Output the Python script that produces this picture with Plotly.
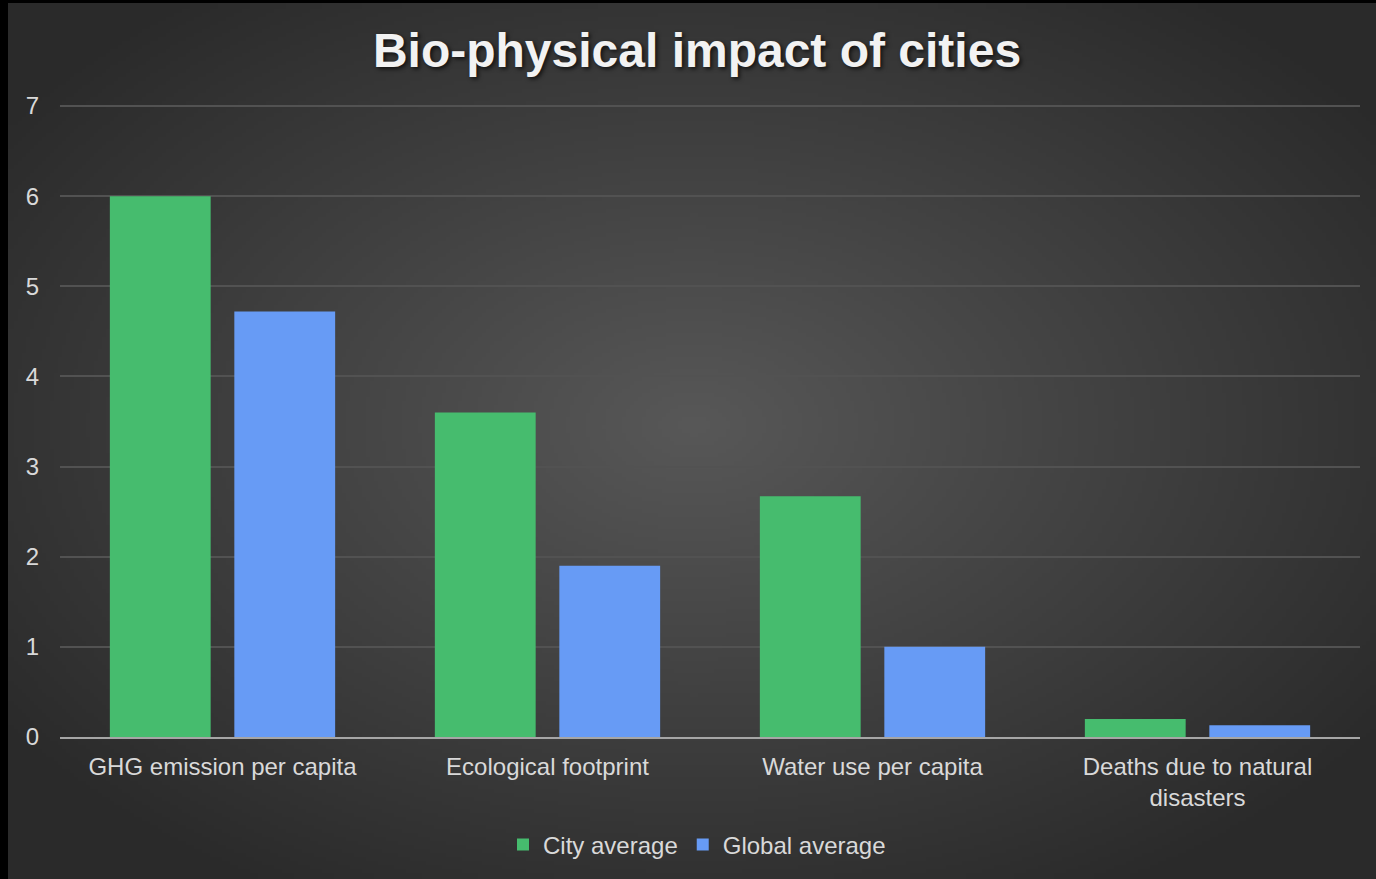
import base64, struct, zlib
import numpy as np
import plotly.graph_objects as go

categories = ["GHG emission per capita", "Ecological footprint", "Water use per capita",
              "Deaths due to natural<br>disasters"]
city_average = [6.0, 3.6, 2.67, 0.2]
global_average = [4.72, 1.9, 1.0, 0.13]
series_names = ["City average", "Global average"]
y_ticks = [0, 1, 2, 3, 4, 5, 6, 7]

W, H = 1376, 879
L, R, T, B = 60, 1360, 103, 737  # plot area in pixels (top padded 3px above the "7" gridline)
y_top = 7 * (B - T) / (B - 106)

def make_png(arr):
    h, w, _ = arr.shape
    raw = b"".join(b"\x00" + arr[i].tobytes() for i in range(h))

    def chunk(tag, data):
        return (struct.pack(">I", len(data)) + tag + data +
                struct.pack(">I", zlib.crc32(tag + data) & 0xffffffff))

    return (b"\x89PNG\r\n\x1a\n" +
            chunk(b"IHDR", struct.pack(">IIBBBBB", w, h, 8, 2, 0, 0, 0)) +
            chunk(b"IDAT", zlib.compress(raw, 9)) + chunk(b"IEND", b""))


# radial background gradient
gw, gh = 342, 219
yy, xx = np.mgrid[0:gh, 0:gw]
cx, cy = gw * 0.50, gh * 0.48
d = np.sqrt(((xx - cx) / (gw * 0.62)) ** 2 + ((yy - cy) / (gh * 0.62)) ** 2)
d = np.clip(d, 0, 1)
c0, c1 = 0x58, 0x2a
val = (c0 + (c1 - c0) * d).astype(np.uint8)
img = np.stack([val, val, val], axis=-1)
src = "data:image/png;base64," + base64.b64encode(make_png(img)).decode()

pw, ph = R - L, B - T
img_x0 = (8 - L) / pw
img_x1 = (W - L) / pw
img_y1 = (B - 3) / ph
img_y0 = (B - H) / ph

fig = go.Figure()
fig.add_trace(go.Bar(x=categories, y=city_average, name=series_names[0],
                     marker=dict(color="#46bc6e", line=dict(width=0))))
fig.add_trace(go.Bar(x=categories, y=global_average, name=series_names[1],
                     marker=dict(color="#679bf5", line=dict(width=0))))

fig.update_layout(
    width=W, height=H,
    margin=dict(l=L, r=W - R, t=T, b=H - B, pad=0),
    paper_bgcolor="#000000",
    plot_bgcolor="rgba(0,0,0,0)",
    barmode="group", bargap=0.234, bargroupgap=0.19,
    font=dict(family="Liberation Sans, Arial, sans-serif", size=24, color="#d9d9d9"),
    title=dict(text="Bio-physical impact of cities",
               x=697 / W, xref="container", xanchor="center",
               y=1 - 50 / H, yref="container", yanchor="middle",
               font=dict(family="Liberation Sans, Arial, sans-serif", size=48,
                         color="#f2f2f2", weight="bold",
                         shadow="2px 2px 4px rgba(0,0,0,0.7)")),
    images=[dict(source=src, xref="paper", yref="paper",
                 x=img_x0, y=img_y1, sizex=img_x1 - img_x0, sizey=img_y1 - img_y0,
                 xanchor="left", yanchor="top", sizing="stretch", layer="below")],
    legend=dict(orientation="h", x=0.49, xanchor="center", y=(B - 845) / ph,
                yanchor="middle", font=dict(size=24, color="#d9d9d9"),
                bgcolor="rgba(0,0,0,0)", itemwidth=30, traceorder="normal"),
    showlegend=True,
)
fig.update_yaxes(range=[0, y_top], tickvals=y_ticks, showgrid=True,
                 gridcolor="#525252", gridwidth=1.5, zeroline=False,
                 showline=False, ticks="", ticklabelstandoff=20,
                 tickfont=dict(size=24, color="#d9d9d9"))
fig.update_xaxes(showline=True, linecolor="#a6a6a6", linewidth=2, ticks="",
                 showgrid=False, ticklabelstandoff=7,
                 tickfont=dict(size=24, color="#d9d9d9"))

fig.write_html("out.html", config={"displayModeBar": False},
               post_script="document.body.style.margin='0';document.body.style.background='#000';")
